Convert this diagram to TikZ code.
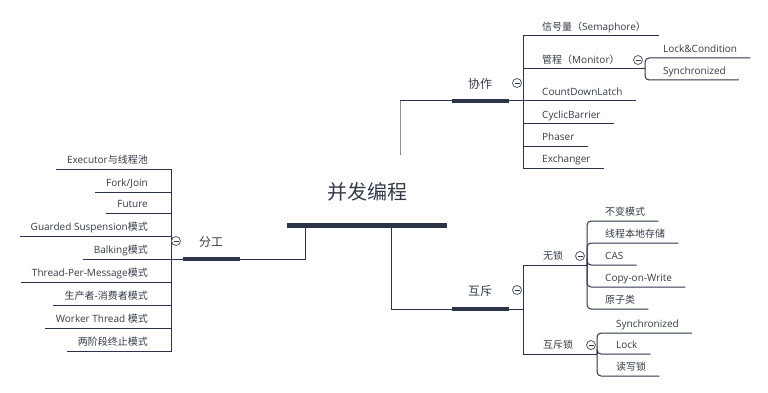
\documentclass[tikz,border=0pt]{standalone}
\usepackage{fontspec}
\setmainfont{Open Sans}
\newfontfamily\cjk{Noto Sans CJK SC}
\usetikzlibrary{positioning}
\definecolor{ink}{HTML}{333A47}
\definecolor{navy}{HTML}{2B3449}
\definecolor{linkgray}{HTML}{8C929C}
\begin{document}
\begin{tikzpicture}[
  x=1pt, y=-1pt,
  title/.style={font=\cjk\fontsize{20}{24}\selectfont,text=ink},
  topic/.style={font=\cjk\fontsize{12}{14}\selectfont,text=ink},
  bar/.style={fill=navy,inner sep=0pt,minimum height=4pt},
  leaf/.style={font=\fontsize{10}{12}\selectfont,text=ink,inner xsep=13pt,inner ysep=3pt,
    text height=8pt,text depth=2pt,anchor=south west},
  leftleaf/.style={leaf,inner xsep=11pt,anchor=south east},
  fold/.style={circle,draw=ink!85,line width=0.8pt,minimum size=9pt,inner sep=0pt,fill=white,
    path picture={\draw[ink,line width=0.8pt] ([xshift=-2.5pt]path picture bounding box.center)
      -- ([xshift=2.5pt]path picture bounding box.center);}},
  conn/.style={draw=navy,line width=1pt},
  soft/.style={conn,rounded corners=4pt}
]
\useasboundingbox (0,0) rectangle (768,393);

\node[title] (main) at (367,192) {并发编程};
\node[bar,minimum width=160pt,minimum height=5pt] (mainbar) at (367,225) {};

\node[topic] (coop) at (480,84) {协作};
\node[bar,minimum width=57pt] (coopbar) at (480.5,101) {};
\node[topic] (mutex) at (480,291) {互斥};
\node[bar,minimum width=57pt] (mutexbar) at (480.5,309) {};
\node[topic] (div) at (211,242) {分工};
\node[bar,minimum width=57pt] (divbar) at (211.5,259) {};

\coordinate (jdiv) at (305,225);
\coordinate (jmutex) at (391,225);
\coordinate (jcoop) at (400,155);
\draw[conn] (jdiv) |- (divbar.east);
\draw[conn] (jmutex) |- (mutexbar.west);
\draw[conn,draw=linkgray] (jcoop) -- (jcoop |- coopbar.west);
\draw[conn] (jcoop |- coopbar.west) -- (coopbar.west);

% 协作
\node[leaf] (sem) at (529,36) {{\cjk 信号量（}Semaphore{\cjk ）}};
\node[leaf] (monitor) at (529,69) {{\cjk 管程（}Monitor{\cjk ）}};
\node[leaf] (cdl) at (529,101) {CountDownLatch};
\node[leaf] (cyclic) at (529,124) {CyclicBarrier};
\node[leaf] (phaser) at (529,146) {Phaser};
\node[leaf] (exch) at (529,168) {Exchanger};
\node[leaf] (lockcond) at (650,58) {Lock\&Condition};
\node[leaf] (syncmon) at (650,80) {Synchronized};
\coordinate (kcoop) at (523,101);
\coordinate (kmon) at (645,69);
\draw[conn] (coopbar.east) -- (kcoop);
\draw[conn] (kcoop) |- (sem.south east);
\draw[conn] (kcoop) |- (kmon);
\draw[conn] (kcoop) |- (cdl.south east);
\draw[conn] (kcoop) |- (cyclic.south east);
\draw[conn] (kcoop) |- (phaser.south east);
\draw[conn] (kcoop) |- (exch.south east);
\draw[soft] (kmon) |- (lockcond.south east);
\draw[soft] (kmon) |- (syncmon.south east);

% 互斥
\node[leaf] (lockfree) at (530,265) {{\cjk 无锁}};
\node[leaf] (mlock) at (530,354) {{\cjk 互斥锁}};
\node[leaf] (immut) at (592,221) {{\cjk 不变模式}};
\node[leaf] (tls) at (592,243) {{\cjk 线程本地存储}};
\node[leaf] (cas) at (592,265) {CAS};
\node[leaf] (cow) at (592,287) {Copy-on-Write};
\node[leaf] (atomic) at (592,309) {{\cjk 原子类}};
\node[leaf] (syncmx) at (603,333) {Synchronized};
\node[leaf] (lock) at (603,354) {Lock};
\node[leaf] (rwlock) at (603,376) {{\cjk 读写锁}};
\coordinate (kmutex) at (523,309);
\coordinate (kfree) at (587,265);
\coordinate (kmlock) at (597,354);
\draw[conn] (mutexbar.east) -- (kmutex);
\draw[conn] (kmutex) |- (kfree);
\draw[conn] (kmutex) |- (kmlock);
\draw[soft] (kfree) |- (immut.south east);
\draw[soft] (kfree) |- (tls.south east);
\draw[soft] (kfree) |- (cas.south east);
\draw[soft] (kfree) |- (cow.south east);
\draw[soft] (kfree) |- (atomic.south east);
\draw[soft] (kmlock) |- (syncmx.south east);
\draw[soft] (kmlock) |- (lock.south east);
\draw[soft] (kmlock) |- (rwlock.south east);

% 分工
\node[leftleaf] (executor) at (159,169) {Executor{\cjk 与线程池}};
\node[leftleaf] (forkjoin) at (159,192) {Fork/Join};
\node[leftleaf] (future) at (159,213) {Future};
\node[leftleaf] (guarded) at (159,236) {Guarded Suspension{\cjk 模式}};
\node[leftleaf] (balking) at (159,259) {Balking{\cjk 模式}};
\node[leftleaf] (tpm) at (159,282) {Thread-Per-Message{\cjk 模式}};
\node[leftleaf] (prodcons) at (159,305) {{\cjk 生产者}-{\cjk 消费者模式}};
\node[leftleaf] (worker) at (159,328) {Worker Thread {\cjk 模式}};
\node[leftleaf] (twophase) at (159,351) {{\cjk 两阶段终止模式}};
\coordinate (kdiv) at (171,259);
\draw[conn] (divbar.west) -- (kdiv);
\draw[conn] (kdiv) |- (executor.south west);
\draw[conn] (kdiv) |- (forkjoin.south west);
\draw[conn] (kdiv) |- (future.south west);
\draw[conn] (kdiv) |- (guarded.south west);
\draw[conn] (kdiv) |- (balking.south west);
\draw[conn] (kdiv) |- (tpm.south west);
\draw[conn] (kdiv) |- (prodcons.south west);
\draw[conn] (kdiv) |- (worker.south west);
\draw[conn] (kdiv) |- (twophase.south west);

\node[fold] (coopfold) at (517,83) {};
\node[fold] (monfold) at (638,60) {};
\node[fold] (mutexfold) at (517,290) {};
\node[fold] (freefold) at (580,256) {};
\node[fold] (mlockfold) at (591,345) {};
\node[fold] (divfold) at (176,241) {};
\end{tikzpicture}
\end{document}
